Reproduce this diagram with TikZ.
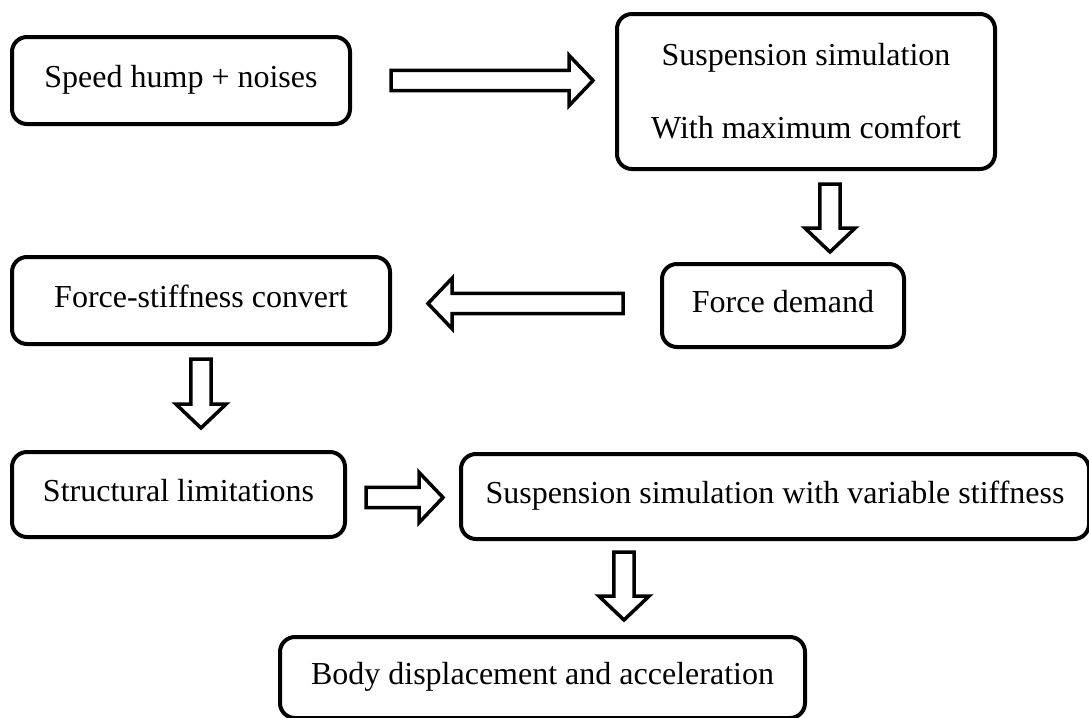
\documentclass[tikz,border=0pt]{standalone}
\usepackage{fontspec}
\setmainfont{Liberation Serif}
\usepackage{tikz}
\usetikzlibrary{calc}

\begin{document}
\begin{tikzpicture}[x=0.5pt, y=-0.5pt,
    stepbox/.style={draw, line width=2pt, rounded corners=7.5pt, anchor=north west,
        inner sep=0pt, align=center, font=\fontsize{16}{19}\selectfont},
    oneline/.style={text height=11pt, text depth=4pt},
    fatarrow/.style={line width=1.75pt, fill=white, to path={
        ($(\tikztostart)!5.1pt!90:(\tikztotarget)$)
        -- ($(\tikztotarget)!12pt!(\tikztostart)!5.1pt!90:(\tikztotarget)$)
        -- ($(\tikztotarget)!12pt!(\tikztostart)!12.6pt!90:(\tikztotarget)$)
        -- (\tikztotarget)
        -- ($(\tikztotarget)!12pt!(\tikztostart)!12.6pt!-90:(\tikztotarget)$)
        -- ($(\tikztotarget)!12pt!(\tikztostart)!5.1pt!-90:(\tikztotarget)$)
        -- ($(\tikztostart)!5.1pt!-90:(\tikztotarget)$)
        -- cycle}}]
             \useasboundingbox (0,0) rectangle (1089,718);

             \node[stepbox, oneline, minimum width=169pt, minimum height=43.5pt] (hump) at (10,35) {Speed hump + noises};
             \node[stepbox, minimum width=189pt, minimum height=77.5pt, font=\fontsize{16}{36.5}\selectfont] (simmax) at (615,12) {Suspension simulation\\With maximum comfort};
             \node[stepbox, oneline, minimum width=121pt, minimum height=41.5pt] (demand) at (660,262) {Force demand};
             \node[stepbox, oneline, minimum width=189pt, minimum height=43.5pt] (convert) at (10,255) {Force-stiffness convert};
             \node[stepbox, oneline, minimum width=166.5pt, minimum height=42.5pt] (limits) at (10,450) {Structural limitations};
             \node[stepbox, oneline, minimum width=314pt, minimum height=42.5pt] (simvar) at (459,452) {Suspension simulation with variable stiffness};
             \node[stepbox, oneline, minimum width=262.5pt, minimum height=40.5pt] (body) at (278,635) {Body displacement and acceleration};

             \coordinate (down1) at ($(simmax.south)+(24,13)$);
             \coordinate (down3) at ($(simvar.south west)+(165,11)$);

             \draw[fatarrow] ($(hump.east)+(39,0)$) to ($(hump.east -| simmax.west)+(-22,0)$);
             \draw[fatarrow] (down1) to ($(down1 |- demand.north)+(0,-10)$);
             \draw[fatarrow] ($(demand.west)+(-37,-2)$) to ($(demand.west -| convert.east)+(36,-2)$);
             \draw[fatarrow] ($(convert.south)+(0,13)$) to ($(convert.south |- limits.north)+(0,-22)$);
             \draw[fatarrow] ($(limits.east)+(19,3)$) to ($(limits.east -| simvar.west)+(-16,3)$);
             \draw[fatarrow] (down3) to ($(down3 |- body.north)+(0,-15)$);
\end{tikzpicture}
\end{document}
